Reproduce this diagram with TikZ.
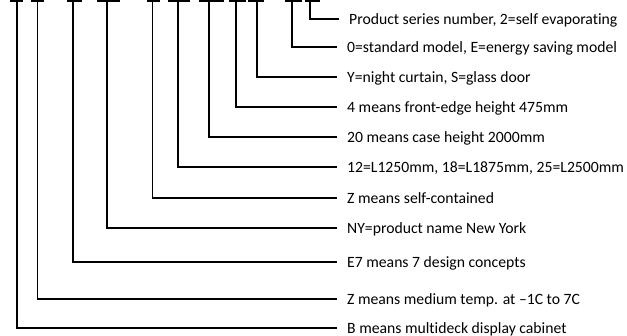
\documentclass[tikz,border=0pt]{standalone}
\usepackage{fontspec}
\setmainfont{Carlito}[Ligatures=NoCommon]
\begin{document}
\begin{tikzpicture}[x=1pt,y=-1pt,
  wire/.style={draw=black,line width=1.2pt},
  lbl/.style={anchor=west,inner xsep=10pt,inner ysep=0pt,text height=10.1pt,text depth=0pt,
    font=\fontsize{15.7}{18}\selectfont}]
\useasboundingbox (0,0) rectangle (627,336);
% top bars: left end, right end, vertical x
\foreach \i/\l/\r/\v in {1/10/23/17,2/31/44/37.5,3/67/82/73,4/97/120/107,5/147/160/152.7,
  6/168/190/178,7/199/224/209,8/229/246/236,9/248/264/257,10/285/302/292,11/305/320/310}{
  \coordinate (bl\i) at (\l,1);
  \coordinate (br\i) at (\r,1);
  \coordinate (v\i) at (\v,1);
}
\node[lbl] (t11) at (339,19) {Product series number, 2=self evaporating};
\node[lbl] (t10) at (337,47) {0=standard model, E=energy saving model};
\node[lbl] (t9) at (337,77) {Y=night curtain, S=glass door};
\node[lbl] (t8) at (337,107) {4 means front-edge height 475mm};
\node[lbl] (t7) at (337,137) {20 means case height 2000mm};
\node[lbl] (t6) at (337,167) {12=L1250mm, 18=L1875mm, 25=L2500mm};
\node[lbl] (t5) at (337,198) {Z means self-contained};
\node[lbl] (t4) at (337,228) {NY=product name New York};
\node[lbl] (t3) at (337,262) {E7 means 7 design concepts};
\node[lbl] (t2) at (337,299) {Z means medium temp. at –1C to 7C};
\node[lbl] (t1) at (337,328) {B means multideck display cabinet};
\foreach \i in {1,...,11}{
  \draw[wire] (bl\i) -- (br\i);
  \draw[wire] (v\i) |- (t\i.west);
}
\end{tikzpicture}
\end{document}
